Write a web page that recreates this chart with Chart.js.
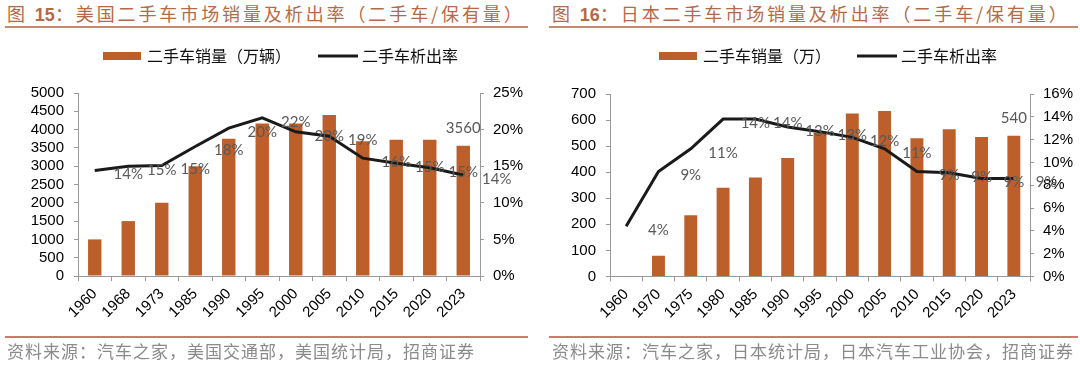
<!DOCTYPE html>
<html><head><meta charset="utf-8">
<script src="https://cdn.jsdelivr.net/npm/chart.js@4.4.1/dist/chart.umd.min.js"></script>
<style>
html,body{margin:0;padding:0;background:#fff;}
body{width:1080px;height:368px;overflow:hidden;position:relative;}
.panel{position:absolute;top:0;width:540px;height:368px;}
.panel canvas{position:absolute;left:0;top:0;}
.title{position:absolute;top:2px;font-family:"Noto Sans CJK SC";font-size:18px;line-height:22px;letter-spacing:2.9px;color:#B36A48;white-space:nowrap;}
.title b{font-family:"Liberation Sans",Arial,sans-serif;font-weight:bold;letter-spacing:0;}
.rule{position:absolute;height:2px;}
.src{position:absolute;top:340px;font-family:"Noto Sans CJK SC";font-size:17px;line-height:22px;letter-spacing:1px;color:#8A8A8A;white-space:nowrap;}
</style></head>
<body>
<div class="title" style="left:7px">图 <b>15</b>：美国二手车市场销量及析出率（二手车/保有量）</div>
<div class="rule" style="left:5px;top:26px;width:523px;background:#C48A6C"></div>
<div class="title" style="left:552px">图 <b>16</b>：日本二手车市场销量及析出率（二手车/保有量）</div>
<div class="rule" style="left:549px;top:26px;width:529px;background:#C48A6C"></div>

<div class="panel" style="left:0"><canvas id="us" width="540" height="368"></canvas></div>
<div class="panel" style="left:540px"><canvas id="jp" width="540" height="368"></canvas></div>

<div class="rule" style="left:5px;top:336px;width:523px;background:#CB7B6C"></div>
<div class="rule" style="left:549px;top:336px;width:529px;background:#CB7B6C"></div>
<div class="src" style="left:7px">资料来源：汽车之家，美国交通部，美国统计局，招商证券</div>
<div class="src" style="left:552px">资料来源：汽车之家，日本统计局，日本汽车工业协会，招商证券</div>

<script>
// ---------- data ----------
const usYears = ['1960','1968','1973','1985','1990','1995','2000','2005','2010','2015','2020','2023'];
const usSales = [1000,1500,2000,3000,3750,4170,4170,4400,3680,3720,3720,3560];   // 万辆
const usRate  = [14.4,15.0,15.1,17.7,20.2,21.6,19.7,19.1,16.1,15.4,14.8,13.8];   // %
const usSalesAxis = [0, 5000, 500];
const usRateAxis  = [0, 25, 5];

const jpYears = ['1960','1970','1975','1980','1985','1990','1995','2000','2005','2010','2015','2020','2023'];
const jpSales = [1,80,235,340,380,455,550,625,635,530,565,535,540];               // 万
const jpRate  = [4.4,9.2,11.2,13.8,13.8,13.1,12.7,12.2,11.2,9.2,9.1,8.6,8.6];     // %
const jpSalesAxis = [0, 700, 100];
const jpRateAxis  = [0, 16, 2];

// ---------- style ----------
const BAR = '#BC5F2A';
const LINE = '#1A1A1A';
const AXIS = '#999999';
Chart.defaults.font.family = '"Liberation Sans", Arial, sans-serif';

const valueLabels = {
  id: 'valueLabels',
  afterDatasetsDraw(chart, args, opts) {
    const ctx = chart.ctx;
    const xs = chart.scales.x;
    const cw = xs.width / chart.data.labels.length;
    ctx.save();
    ctx.font = '15px Lato';
    ctx.fillStyle = '#595959';
    ctx.textAlign = 'center';
    ctx.textBaseline = 'middle';
    const lm = chart.getDatasetMeta(1);
    const ld = chart.data.datasets[1].data;
    lm.data.forEach((p, i) => {
      ctx.fillText(Math.round(ld[i]) + '%', p.x + cw, p.y + opts.dy);
    });
    const bm = chart.getDatasetMeta(0);
    const bd = chart.data.datasets[0].data;
    const k = bd.length - 1;
    const b = bm.data[k];
    ctx.fillText(String(bd[k]), b.x, b.y - opts.barDy);
    ctx.restore();
  }
};

const customLegend = {
  id: 'customLegend',
  afterDraw(chart, args, opts) {
    const ctx = chart.ctx;
    ctx.save();
    ctx.font = '16px "Noto Sans CJK SC"';
    ctx.textBaseline = 'middle';
    chart.data.datasets.forEach((ds, i) => {
      const x0 = opts.xs[i], y = opts.y;
      if (ds.type === 'bar') {
        ctx.fillStyle = ds.backgroundColor;
        ctx.fillRect(x0, y - 4, 38, 8);
      } else {
        ctx.strokeStyle = ds.borderColor;
        ctx.lineWidth = 3;
        ctx.beginPath(); ctx.moveTo(x0, y); ctx.lineTo(x0 + 40, y); ctx.stroke();
      }
      ctx.fillStyle = '#111';
      ctx.fillText(ds.label, x0 + 44, y);
    });
    ctx.restore();
  }
};

function build(id, labels, sales, rate, salesAxis, rateAxis, salesLabel, geo) {
  const tickFont = {family: '"Liberation Sans", Arial, sans-serif', size: 15};
  return new Chart(document.getElementById(id), {
    type: 'bar',
    data: {
      labels: labels,
      datasets: [
        {type: 'bar', label: salesLabel, data: sales, backgroundColor: BAR,
         barPercentage: 0.4, categoryPercentage: 1, yAxisID: 'y', order: 2},
        {type: 'line', label: '二手车析出率', data: rate, borderColor: LINE, backgroundColor: LINE,
         borderWidth: 3, pointRadius: 0, tension: 0, yAxisID: 'y1', order: 1}
      ]
    },
    options: {
      responsive: false,
      animation: false,
      devicePixelRatio: 1,
      layout: {padding: {top: geo.top, left: 0, right: 0, bottom: 0}},
      plugins: {
        legend: {display: false},
        tooltip: {enabled: false},
        valueLabels: {dy: 4, barDy: 18},
        customLegend: {xs: geo.legendXs, y: 56}
      },
      scales: {
        x: {
          grid: {drawOnChartArea: false, offset: true, tickLength: 5, color: AXIS},
          border: {color: AXIS},
          ticks: {autoSkip: false, minRotation: 45, maxRotation: 45, font: tickFont, color: '#000', padding: 4},
          afterFit(s) { s.height = geo.xh; s.paddingLeft = 0; s.paddingRight = 0; }
        },
        y: {
          position: 'left', min: salesAxis[0], max: salesAxis[1],
          grid: {drawOnChartArea: false, tickLength: 4, color: AXIS},
          border: {color: AXIS},
          ticks: {stepSize: salesAxis[2], autoSkip: false, maxTicksLimit: 50, font: tickFont, color: '#000', padding: 10,
                  callback: v => String(v)},
          afterFit(s) { s.width = geo.lw; s.paddingTop = 0; s.paddingBottom = 0; }
        },
        y1: {
          position: 'right', min: rateAxis[0], max: rateAxis[1],
          grid: {drawOnChartArea: false, tickLength: 4, color: AXIS},
          border: {color: AXIS},
          ticks: {stepSize: rateAxis[2], autoSkip: false, maxTicksLimit: 50, font: tickFont, color: '#000', padding: 9,
                  callback: v => v + '%'},
          afterFit(s) { s.width = geo.rw; s.paddingTop = 0; s.paddingBottom = 0; }
        }
      }
    },
    plugins: [valueLabels, customLegend]
  });
}

build('us', usYears, usSales, usRate, usSalesAxis, usRateAxis, '二手车销量（万辆）',
      {top: 93, xh: 92, lw: 78, rw: 60, legendXs: [103, 318]});
build('jp', jpYears, jpSales, jpRate, jpSalesAxis, jpRateAxis, '二手车销量（万）',
      {top: 94, xh: 91.5, lw: 70, rw: 50, legendXs: [119, 317]});
</script>
</body></html>
